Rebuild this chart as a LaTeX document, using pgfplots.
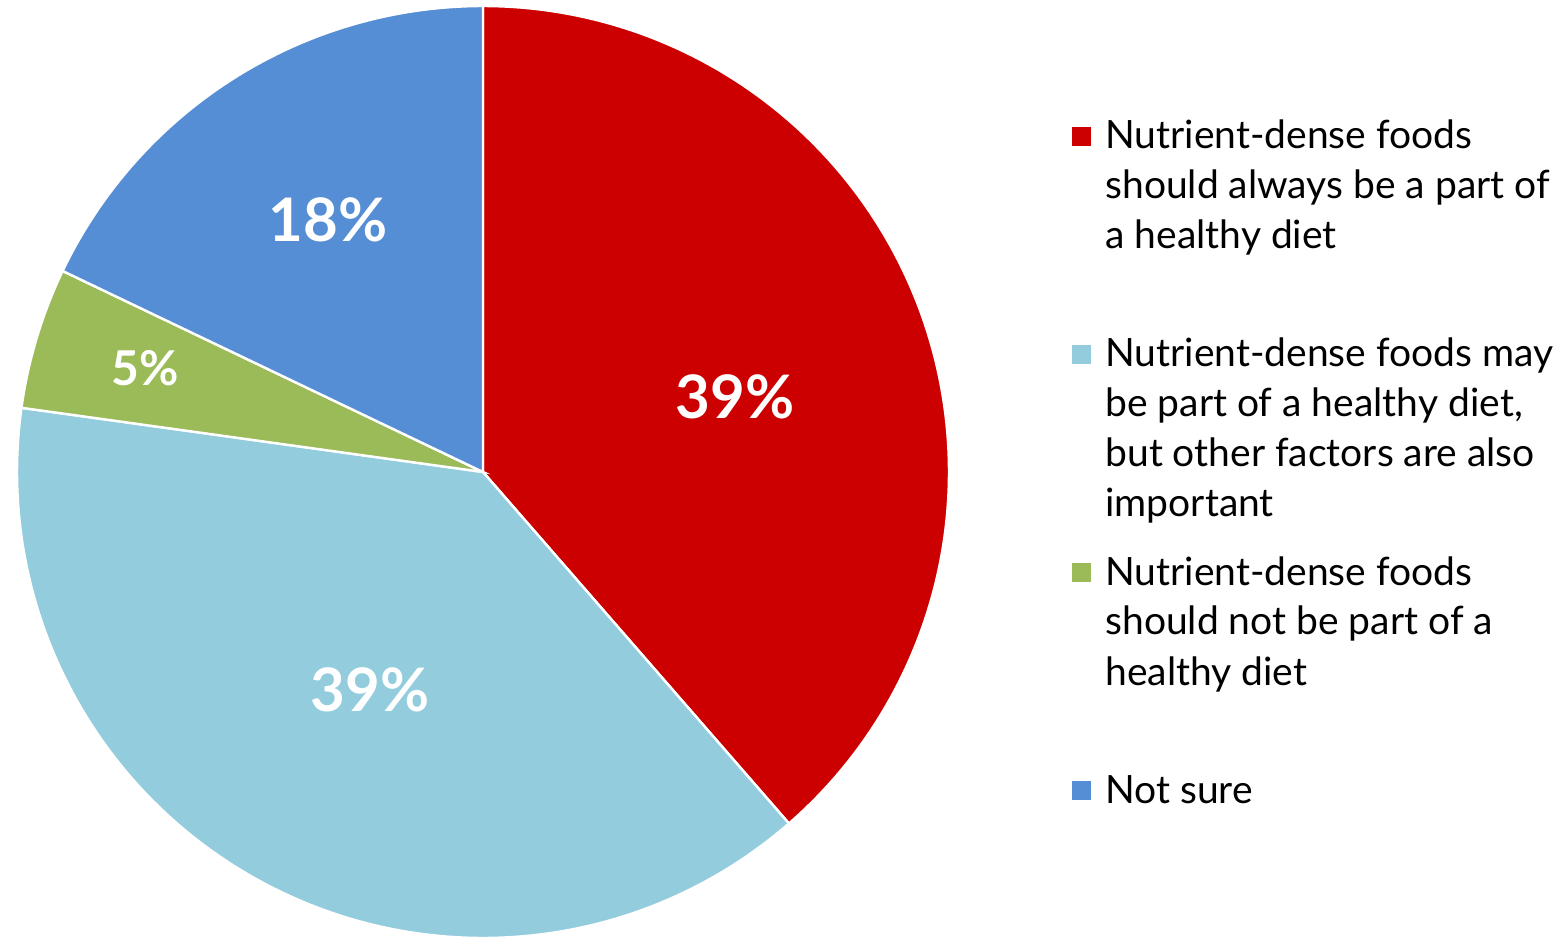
\documentclass[border=0pt]{standalone}
\usepackage{pgfplots}
\pgfplotsset{compat=1.18}
\usepackage{pgfplotstable}
\usepackage{fontspec}
\setmainfont{Lato}
\definecolor{cRed}{HTML}{CC0000}
\definecolor{cLight}{HTML}{93CDDD}
\definecolor{cGreen}{HTML}{9BBB59}
\definecolor{cBlue}{HTML}{558ED5}
\pgfplotstableread{
share
38.6
38.6
4.9
17.9
}\shares
\begin{document}
\begin{tikzpicture}
\pgfplotstablegetelem{0}{share}\of\shares \let\va\pgfplotsretval
\pgfplotstablegetelem{1}{share}\of\shares \let\vb\pgfplotsretval
\pgfplotstablegetelem{2}{share}\of\shares \let\vc\pgfplotsretval
\pgfplotstablegetelem{3}{share}\of\shares \let\vd\pgfplotsretval
\pgfmathsetmacro\aA{90}
\pgfmathsetmacro\aB{\aA-3.6*\va}
\pgfmathsetmacro\aC{\aB-3.6*\vb}
\pgfmathsetmacro\aD{\aC-3.6*\vc}
\pgfmathsetmacro\aE{\aD-3.6*\vd}
\begin{axis}[
  hide axis, scale only axis,
  width=784pt, height=469pt,
  xmin=0, xmax=1568, ymin=0, ymax=938,
  clip=true,
]
\coordinate (bbsw) at (axis cs:0,0);
\coordinate (bbne) at (axis cs:1568,938);
\addplot[fill=cRed, draw=white, line width=1.2pt, domain=\aB:\aA, samples=120, variable=\t]
  ({483+466*cos(\t)},{466+466*sin(\t)}) -- (axis cs:483,466) -- cycle;
\addplot[fill=cLight, draw=white, line width=1.2pt, domain=\aC:\aB, samples=120, variable=\t]
  ({483+466*cos(\t)},{466+466*sin(\t)}) -- (axis cs:483,466) -- cycle;
\addplot[fill=cGreen, draw=white, line width=1.2pt, domain=\aD:\aC, samples=30, variable=\t]
  ({483+466*cos(\t)},{466+466*sin(\t)}) -- (axis cs:483,466) -- cycle;
\addplot[fill=cBlue, draw=white, line width=1.2pt, domain=\aE:\aD, samples=60, variable=\t]
  ({483+466*cos(\t)},{466+466*sin(\t)}) -- (axis cs:483,466) -- cycle;
% slice labels
\node[text=white, font=\fontsize{30}{32}\selectfont\bfseries] at (axis cs:735,541) {39\%};
\node[text=white, font=\fontsize{30}{32}\selectfont\bfseries] at (axis cs:370,248) {39\%};
\node[text=white, font=\fontsize{24}{26}\selectfont\bfseries] at (axis cs:145,570) {5\%};
\node[text=white, font=\fontsize{30}{32}\selectfont\bfseries] at (axis cs:328,718) {18\%};
% legend markers
\addplot[only marks, mark=square*, mark size=4.5pt, color=cRed] coordinates {(1081,802)};
\addplot[only marks, mark=square*, mark size=4.5pt, color=cLight] coordinates {(1081,584)};
\addplot[only marks, mark=square*, mark size=4.5pt, color=cGreen] coordinates {(1081,366)};
\addplot[only marks, mark=square*, mark size=4.5pt, color=cBlue] coordinates {(1081,148)};
% legend text
\begin{scope}[every node/.style={anchor=base west, inner sep=0pt, font=\fontsize{19.5}{25}\selectfont, text=black}]
\node at (axis cs:1105,789) {\vtop{\hbox{Nutrient-dense foods}\hbox{should always be a part of}\hbox{a healthy diet}}};
\node at (axis cs:1105,571) {\vtop{\hbox{Nutrient-dense foods may}\hbox{be part of a healthy diet,}\hbox{but other factors are also}\hbox{important}}};
\node at (axis cs:1105,353) {\vtop{\hbox{Nutrient-dense foods}\hbox{should not be part of a}\hbox{healthy diet}}};
\node at (axis cs:1105,135) {\vtop{\hbox{Not sure}}};
\end{scope}
\end{axis}
\pgfresetboundingbox
\useasboundingbox (bbsw) rectangle (bbne);
\end{tikzpicture}
\end{document}
